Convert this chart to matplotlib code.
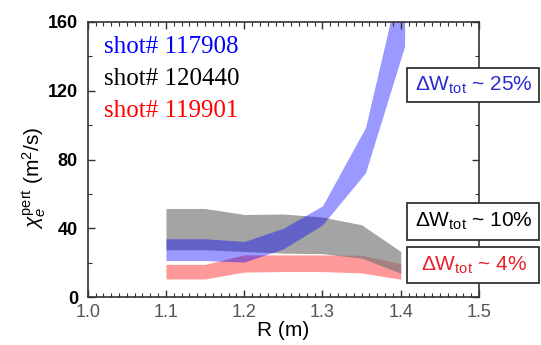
import matplotlib
matplotlib.use('Agg')
import matplotlib.pyplot as plt
from matplotlib.patches import Rectangle
from matplotlib.ticker import MultipleLocator

plt.rcParams['font.family'] = ['Liberation Sans', 'DejaVu Sans']
plt.rcParams['mathtext.fontset'] = 'custom'
plt.rcParams['mathtext.rm'] = 'Liberation Sans'
plt.rcParams['mathtext.it'] = 'Liberation Sans:italic'
plt.rcParams['mathtext.bf'] = 'Liberation Sans:bold'

# band data (R in m, chi in m^2/s)
r_band = [1.1, 1.15, 1.2, 1.25, 1.3, 1.35, 1.4]
grey_lo = [27.5, 27.5, 26.5, 25.5, 25.2, 22.6, 13.8]
grey_hi = [51.5, 51.5, 48.0, 48.3, 46.5, 42.0, 26.5]
red_lo = [10.5, 10.5, 14.5, 14.8, 14.8, 14.0, 10.3]
red_hi = [19.0, 19.0, 24.5, 24.5, 24.5, 24.3, 19.3]
r_blue = [1.1, 1.15, 1.2, 1.25, 1.3, 1.355, 1.405]
blue_lo = [21.2, 21.2, 20.3, 28.0, 42.0, 72.3, 146.0]
blue_hi = [33.9, 33.9, 32.3, 40.0, 53.0, 98.6, 196.0]

shots = ['shot# 117908', 'shot# 120440', 'shot# 119901']
shot_colors = ['#0000ff', '#000000', '#ff0000']
dw_labels = [r'$\Delta$W$_{\rm tot}$ ~ 25%', r'$\Delta$W$_{\rm tot}$ ~ 10%', r'$\Delta$W$_{\rm tot}$ ~ 4%']
dw_colors = ['#2a2ad0', '#000000', '#e8202a']

W, H = 541, 345
fig = plt.figure(figsize=(W / 100, H / 100), dpi=100)
ax = fig.add_axes([87.7 / W, 1 - 297 / H, (479 - 87.7) / W, (297 - 22) / H])

ax.fill_between(r_band, red_lo, red_hi, color=(1, 0, 0), alpha=0.4, lw=0)
ax.fill_between(r_band, grey_lo, grey_hi, color=(0.45, 0.45, 0.45), alpha=0.65, lw=0)
ax.fill_between(r_blue, blue_lo, blue_hi, color=(0, 0, 1), alpha=0.4, lw=0)

ax.set_xlim(1.0, 1.5)
ax.set_ylim(0, 160)
ax.xaxis.set_major_locator(MultipleLocator(0.1))
ax.xaxis.set_minor_locator(MultipleLocator(0.01))
ax.yaxis.set_major_locator(MultipleLocator(40))
ax.yaxis.set_minor_locator(MultipleLocator(20))
ax.xaxis.set_major_formatter(matplotlib.ticker.FormatStrFormatter('%.1f'))
ax.tick_params(which='both', direction='in', top=True, right=True, color='#333333')
ax.tick_params(which='major', length=5, width=1)
ax.tick_params(which='minor', length=3, width=0.8)
ax.tick_params(axis='x', labelsize=13, labelcolor='#555555', pad=5)
ax.tick_params(axis='y', labelsize=13, pad=7)
for lab in ax.get_yticklabels():
    lab.set_fontweight('bold')
for sp in ax.spines.values():
    sp.set_color('#333333')
    sp.set_linewidth(1.2)

fig.text(283 / W, 1 - 331 / H, 'R (m)', ha='center', va='center', fontsize=15)
fig.text(34 / W, 1 - 178 / H, r'$\chi_e^{\rm pert}$ (m$^2$/s)', ha='center', va='center',
         rotation=90, fontsize=15)

for i, (s, c) in enumerate(zip(shots, shot_colors)):
    ax.text(1.021, 145.5 - i * 18.7, s, color=c, fontsize=18, va='center', ha='left',
            family=['Liberation Serif', 'DejaVu Serif'])

box_tops = [68, 203, 247]
box_bottoms = [102, 240, 283]
for lab, c, t, b in zip(dw_labels, dw_colors, box_tops, box_bottoms):
    fig.patches.append(Rectangle((407 / W, 1 - b / H), (539 - 407) / W, (b - t) / H,
                                 transform=fig.transFigure, facecolor='white',
                                 edgecolor='#333333', lw=1.3, zorder=5))
    fig.text(474 / W, 1 - (t + b) / 2 / H, lab, color=c, fontsize=15, ha='center',
             va='center', zorder=6)

fig.savefig('out.png', dpi=100)
